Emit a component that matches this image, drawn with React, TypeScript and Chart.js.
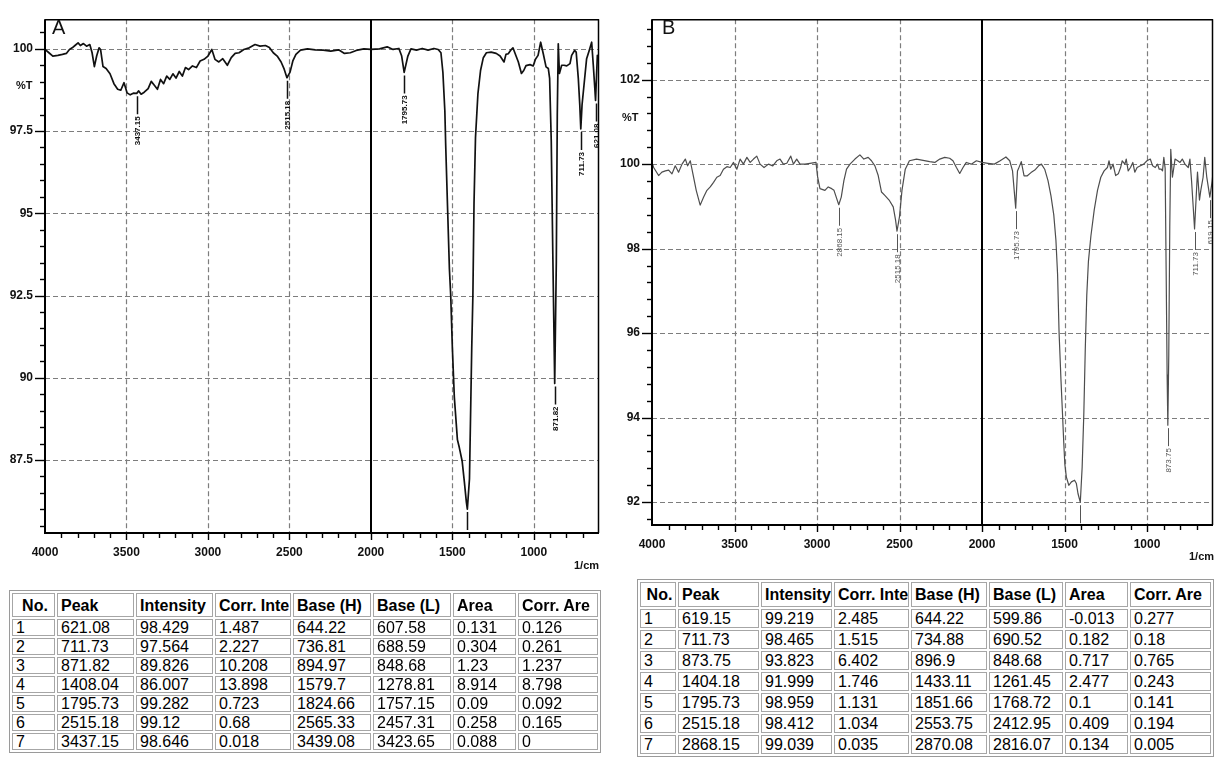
import React, { useEffect, useRef } from "react";
import { Chart, registerables } from "chart.js";

Chart.register(...registerables);

const FONT = '"Liberation Sans", Arial, Helvetica, sans-serif';

// ---------------- Spectrum A (wavenumber 1/cm, %T) ----------------
const waveA = [
  4000, 3976, 3952, 3921, 3893, 3869, 3850, 3833, 3816, 3797,
  3783, 3764, 3745, 3725, 3711, 3697, 3683, 3668, 3659, 3644,
  3625, 3601, 3577, 3554, 3535, 3515, 3496, 3477, 3458, 3437.15,
  3425, 3410, 3391, 3367, 3348, 3329, 3310, 3291, 3272, 3253,
  3234, 3215, 3196, 3176, 3157, 3138, 3119, 3095, 3071, 3048,
  3024, 3000, 2976, 2957, 2933, 2909, 2881, 2857, 2833, 2809,
  2780, 2747, 2711, 2680, 2647, 2623, 2599, 2575, 2551, 2532,
  2515.18, 2496, 2479, 2460, 2432, 2389, 2341, 2293, 2246, 2198,
  2162, 2126, 2090, 2043, 2000, 1947, 1900, 1864, 1828, 1811,
  1795.73, 1773, 1754, 1720, 1685, 1649, 1613, 1587, 1570, 1558,
  1546, 1541, 1529, 1518, 1510, 1500, 1488, 1469, 1457, 1440,
  1426, 1414, 1408.04, 1395, 1388, 1381, 1374, 1367, 1358, 1343,
  1327, 1310, 1291, 1262, 1231, 1207, 1183, 1171, 1157, 1143,
  1128, 1109, 1095, 1076, 1062, 1048, 1023, 1004, 990, 974,
  958, 942, 925, 911, 903, 893, 883, 871.82, 862, 856,
  850, 843, 829, 815, 798, 778, 768, 750, 740, 727,
  718, 711.73, 704, 692, 676, 660, 645, 635, 627, 621.08,
  615, 610, 600,
];
const transA = [
  99.98, 99.88, 99.78, 99.8, 99.83, 99.86, 99.98, 100.03, 100.1, 100.18,
  100.1, 100.16, 100.08, 100.13, 99.88, 99.46, 99.78, 100.03, 99.98, 99.46,
  99.4, 99.24, 98.94, 98.77, 98.74, 98.97, 98.66, 98.6, 98.65, 98.646,
  98.72, 98.62, 98.68, 98.79, 99.01, 98.89, 98.77, 99.07, 98.94, 99.17,
  99.07, 99.24, 99.11, 99.31, 99.17, 99.43, 99.37, 99.48, 99.43, 99.63,
  99.68, 99.78, 99.98, 99.68, 99.6, 99.7, 99.5, 99.73, 99.86, 99.88,
  99.98, 100.03, 100.13, 100.08, 100.1, 100.04, 99.88, 99.78, 99.6, 99.38,
  99.12, 99.29, 99.63, 99.83, 99.96, 100.0, 99.97, 99.96, 99.93, 99.97,
  99.86, 99.88, 99.95, 100.0, 99.98, 100.0, 100.06, 99.98, 100.01, 99.78,
  99.282, 99.78, 100.0, 99.96, 100.01, 99.96, 100.01, 99.98, 99.88, 99.28,
  98.1, 97.1, 95.1, 93.3, 92.5, 90.92, 89.42, 88.12, 87.87, 87.47,
  86.82, 86.22, 86.007, 86.92, 88.92, 90.92, 92.5, 95.32, 97.3, 98.64,
  99.34, 99.73, 99.88, 99.9, 99.86, 99.78, 99.6, 99.83, 99.85, 99.95,
  100.03, 99.78, 99.6, 99.25, 99.34, 99.49, 99.52, 99.48, 99.68, 99.8,
  100.2, 99.85, 99.45, 99.4, 99.1, 97.2, 93.6, 89.826, 93.5, 98.0,
  100.15, 99.25, 99.5, 99.5, 99.48, 99.55, 99.8, 99.95, 99.9, 99.1,
  98.3, 97.564, 98.3, 98.9, 99.7, 99.95, 100.2, 99.5, 98.9, 98.429,
  99.2, 99.8, 99.7,
];

// ---------------- Spectrum B ----------------
const waveB = [
  4000, 3990, 3960, 3940, 3919, 3899, 3879, 3859, 3839, 3818,
  3798, 3784, 3768, 3752, 3732, 3708, 3687, 3667, 3647, 3627,
  3607, 3587, 3567, 3546, 3526, 3506, 3486, 3466, 3446, 3425,
  3405, 3385, 3365, 3345, 3321, 3294, 3268, 3244, 3224, 3204,
  3183, 3159, 3143, 3123, 3103, 3073, 3042, 3006, 2996, 2982,
  2952, 2932, 2911, 2897, 2881, 2868.15, 2853, 2837, 2821, 2800,
  2770, 2740, 2716, 2690, 2670, 2649, 2629, 2609, 2589, 2563,
  2538, 2524, 2515.18, 2500, 2485, 2465, 2440, 2397, 2357, 2317,
  2286, 2256, 2226, 2196, 2176, 2155, 2135, 2115, 2095, 2065,
  2034, 2000, 1964, 1925, 1890, 1855, 1832, 1815, 1795.73, 1785,
  1778, 1762, 1745, 1727, 1703, 1680, 1657, 1640, 1620, 1600,
  1582, 1565, 1552, 1542, 1533, 1521, 1512, 1505, 1498, 1489,
  1474, 1458, 1439, 1428, 1418, 1404.18, 1393, 1383, 1374, 1365,
  1355, 1340, 1320, 1300, 1280, 1260, 1240, 1230, 1220, 1206,
  1190, 1174, 1160, 1150, 1134, 1126, 1114, 1100, 1086, 1074,
  1060, 1040, 1020, 1000, 980, 966, 950, 936, 926, 914,
  906, 898, 890, 884, 878, 873.75, 868, 862, 856, 846,
  830, 814, 800, 786, 770, 750, 740, 730, 720, 711.73,
  706, 698, 694, 682, 674, 660, 650, 638, 619.15, 605,
  600,
];
const transB = [
  100.04, 99.92, 99.73, 99.81, 99.84, 99.86, 99.77, 99.96, 99.81, 100.0,
  100.12, 99.96, 100.08, 99.77, 99.38, 99.03, 99.22, 99.38, 99.46, 99.57,
  99.69, 99.73, 99.88, 99.94, 99.92, 100.04, 99.88, 100.12, 100.0, 100.16,
  100.04, 100.12, 100.19, 100.0, 99.92, 100.0, 99.96, 100.08, 100.12, 100.0,
  100.02, 100.19, 100.0, 100.12, 100.0, 100.0, 100.02, 100.04, 99.69, 99.42,
  99.38, 99.46, 99.42, 99.38, 99.19, 99.039, 99.22, 99.61, 99.88, 100.0,
  100.12, 100.22, 100.12, 100.16, 100.08, 99.96, 99.73, 99.34, 99.26, 99.15,
  98.99, 98.68, 98.412, 98.76, 99.38, 99.88, 100.08, 100.12, 100.09, 100.06,
  100.04, 100.12, 100.16, 100.14, 100.08, 99.92, 99.78, 99.92, 100.04, 100.0,
  100.08, 100.04, 100.02, 100.0, 100.08, 100.17, 100.08, 99.84, 98.959, 99.84,
  99.9, 100.06, 99.72, 99.72, 99.8, 99.86, 99.96, 100.0, 99.88, 99.61,
  99.25, 98.8, 98.2, 97.4, 96.03, 94.86, 94.08, 93.45, 92.9, 92.6,
  92.4, 92.48, 92.52, 92.44, 92.2, 91.999, 92.83, 94.08, 95.64, 96.9,
  97.7, 98.3, 98.91, 99.38, 99.69, 99.84, 99.92, 100.08, 99.88, 100.0,
  99.73, 99.77, 99.92, 100.08, 100.0, 100.12, 99.84, 99.92, 100.04, 99.81,
  99.92, 99.96, 100.0, 100.08, 100.12, 99.96, 99.92, 100.0, 99.88, 99.88,
  99.84, 100.16, 99.9, 97.5, 95.0, 93.823, 95.5, 98.5, 100.35, 99.69,
  100.12, 100.08, 100.04, 100.12, 100.0, 99.92, 100.12, 99.61, 98.99, 98.465,
  98.91, 99.53, 99.81, 99.15, 99.38, 99.69, 100.16, 99.7, 99.219, 99.6,
  99.8,
];

// ---------------- Axis tick labels ----------------
const xTickLabels = [4000, 3500, 3000, 2500, 2000, 1500, 1000];
const yTickLabelsA = [100, 97.5, 95, 92.5, 90, 87.5];
const yTickLabelsB = [102, 100, 98, 96, 94, 92];

// ---------------- Peak tables ----------------
const tableHeader = ["No.", "Peak", "Intensity", "Corr. Inte", "Base (H)", "Base (L)", "Area", "Corr. Are"];
const rowNo = ["1", "2", "3", "4", "5", "6", "7"];

const peakA = ["621.08", "711.73", "871.82", "1408.04", "1795.73", "2515.18", "3437.15"];
const intensityA = ["98.429", "97.564", "89.826", "86.007", "99.282", "99.12", "98.646"];
const corrInteA = ["1.487", "2.227", "10.208", "13.898", "0.723", "0.68", "0.018"];
const baseHA = ["644.22", "736.81", "894.97", "1579.7", "1824.66", "2565.33", "3439.08"];
const baseLA = ["607.58", "688.59", "848.68", "1278.81", "1757.15", "2457.31", "3423.65"];
const areaA = ["0.131", "0.304", "1.23", "8.914", "0.09", "0.258", "0.088"];
const corrAreA = ["0.126", "0.261", "1.237", "8.798", "0.092", "0.165", "0"];

const peakB = ["619.15", "711.73", "873.75", "1404.18", "1795.73", "2515.18", "2868.15"];
const intensityB = ["99.219", "98.465", "93.823", "91.999", "98.959", "98.412", "99.039"];
const corrInteB = ["2.485", "1.515", "6.402", "1.746", "1.131", "1.034", "0.035"];
const baseHB = ["644.22", "734.88", "896.9", "1433.11", "1851.66", "2553.75", "2870.08"];
const baseLB = ["599.86", "690.52", "848.68", "1261.45", "1768.72", "2412.95", "2816.07"];
const areaB = ["-0.013", "0.182", "0.717", "2.477", "0.1", "0.409", "0.134"];
const corrAreB = ["0.277", "0.18", "0.765", "0.243", "0.141", "0.194", "0.005"];

// axis constants
const X_MIN = 600;
const X_MAX = 4000;
const X_MINOR = 100;
const X_MAJOR = 500;
const X_SOLID = 2000;

type SpecCfg = {
  left: number;
  width: number;
  height: number;
  plotLeft: number;
  plotRight: number;
  plotTop: number;
  plotBottom: number;
  yMin: number;
  yMax: number;
  yMinor: number;
  yLabels: number[];
  wave: number[];
  trans: number[];
  peaks: string[];
  intens: string[];
  lineColor: string;
  lineWidth: number;
  peakColor: string;
  peakFont: string;
  peakLineWidth: number;
};

function makeDecor(cfg: SpecCfg) {
  const line = (ctx: CanvasRenderingContext2D, x1: number, y1: number, x2: number, y2: number) => {
    ctx.beginPath();
    ctx.moveTo(x1, y1);
    ctx.lineTo(x2, y2);
    ctx.stroke();
  };
  return {
    id: "decor",
    beforeDatasetsDraw(chart: any) {
      const { ctx, chartArea: a } = chart;
      const xs = chart.scales.x;
      const ys = chart.scales.y;
      ctx.save();
      ctx.strokeStyle = "#7d7d7d";
      ctx.lineWidth = 1.2;
      ctx.setLineDash([5, 3]);
      for (const v of xTickLabels) {
        if (v === X_SOLID || v >= X_MAX || v <= X_MIN) continue;
        const px = Math.round(xs.getPixelForValue(v)) + 0.5;
        line(ctx, px, a.top, px, a.bottom);
      }
      for (const v of cfg.yLabels) {
        const py = Math.round(ys.getPixelForValue(v)) + 0.5;
        line(ctx, a.left, py, a.right, py);
      }
      ctx.setLineDash([]);
      ctx.strokeStyle = "#000";
      ctx.lineWidth = 2;
      const sx = Math.round(xs.getPixelForValue(X_SOLID));
      line(ctx, sx, a.top, sx, a.bottom);
      ctx.restore();
    },
    afterDatasetsDraw(chart: any) {
      const { ctx, chartArea: a } = chart;
      const xs = chart.scales.x;
      const ys = chart.scales.y;
      // peak markers
      ctx.save();
      ctx.beginPath();
      ctx.rect(a.left, a.top, a.right - a.left, a.bottom - a.top);
      ctx.clip();
      ctx.strokeStyle = cfg.peakColor;
      ctx.fillStyle = cfg.peakColor;
      ctx.lineWidth = cfg.peakLineWidth;
      ctx.font = cfg.peakFont;
      cfg.peaks.forEach((pk, i) => {
        const px = Math.round(xs.getPixelForValue(parseFloat(pk))) + 0.5;
        const py = ys.getPixelForValue(parseFloat(cfg.intens[i]));
        line(ctx, px, py + 3, px, py + 21);
        ctx.save();
        ctx.translate(px, py + 23);
        ctx.rotate(-Math.PI / 2);
        ctx.textAlign = "right";
        ctx.textBaseline = "middle";
        ctx.fillText(pk, 0, 0);
        ctx.restore();
      });
      ctx.restore();
      // frame
      ctx.save();
      ctx.strokeStyle = "#000";
      ctx.lineWidth = 1.5;
      line(ctx, a.left, a.top + 0.5, a.right, a.top + 0.5);
      line(ctx, a.right - 0.5, a.top, a.right - 0.5, a.bottom);
      ctx.lineWidth = 2;
      line(ctx, a.left, a.top, a.left, a.bottom + 1);
      line(ctx, a.left - 1, a.bottom, a.right, a.bottom);
      // ticks
      ctx.lineWidth = 1.4;
      for (let v = X_MIN + X_MINOR; v < X_MAX; v += X_MINOR) {
        const px = Math.round(xs.getPixelForValue(v)) + 0.5;
        const len = v % X_MAJOR === 0 ? 7 : 5;
        line(ctx, px, a.bottom, px, a.bottom + len);
      }
      for (let k = Math.ceil(cfg.yMin / cfg.yMinor); k * cfg.yMinor < cfg.yMax; k++) {
        const v = k * cfg.yMinor;
        const major = cfg.yLabels.some((l) => Math.abs(l - v) < 1e-6);
        const py = Math.round(ys.getPixelForValue(v)) + 0.5;
        line(ctx, a.left - (major ? 10 : 5), py, a.left, py);
      }
      ctx.restore();
    },
  };
}

function Spectrum({ cfg }: { cfg: SpecCfg }) {
  const ref = useRef<HTMLCanvasElement>(null);
  useEffect(() => {
    const tickFont = { family: FONT, size: 12, weight: "bold" as const };
    const chart = new Chart(ref.current as HTMLCanvasElement, {
      type: "line",
      data: {
        datasets: [
          {
            data: cfg.wave.map((w, i) => ({ x: w, y: cfg.trans[i] })),
            borderColor: cfg.lineColor,
            borderWidth: cfg.lineWidth,
            pointRadius: 0,
            tension: 0,
            fill: false,
            borderJoinStyle: "round",
          },
        ],
      },
      options: {
        responsive: false,
        animation: false,
        devicePixelRatio: 1,
        events: [],
        layout: { padding: { left: 0, top: cfg.plotTop, right: cfg.width - cfg.plotRight, bottom: 0 } },
        plugins: { legend: { display: false }, tooltip: { enabled: false } },
        scales: {
          x: {
            type: "linear",
            reverse: true,
            min: X_MIN,
            max: X_MAX,
            bounds: "data",
            grid: { display: false, drawTicks: false },
            border: { display: false },
            afterBuildTicks: (s: any) => {
              s.ticks = xTickLabels.map((v) => ({ value: v }));
            },
            afterFit: (s: any) => {
              s.height = cfg.height - cfg.plotBottom;
            },
            ticks: {
              autoSkip: false,
              maxRotation: 0,
              minRotation: 0,
              padding: 12,
              color: "#111",
              font: tickFont,
              callback: (v: any) => String(v),
            },
          },
          y: {
            type: "linear",
            min: cfg.yMin,
            max: cfg.yMax,
            bounds: "data",
            grid: { display: false, drawTicks: false },
            border: { display: false },
            afterBuildTicks: (s: any) => {
              s.ticks = cfg.yLabels.map((v) => ({ value: v }));
            },
            afterFit: (s: any) => {
              s.width = cfg.plotLeft;
            },
            ticks: {
              autoSkip: false,
              padding: 12,
              color: "#111",
              font: tickFont,
              callback: (v: any) => String(v),
            },
          },
        },
      } as any,
      plugins: [makeDecor(cfg)],
    });
    return () => chart.destroy();
  }, []);
  return (
    <canvas
      ref={ref}
      width={cfg.width}
      height={cfg.height}
      style={{ position: "absolute", left: cfg.left, top: 0, width: cfg.width, height: cfg.height }}
    />
  );
}

function Txt({ left, top, size, bold, children }: { left: number; top: number; size: number; bold?: boolean; children: React.ReactNode }) {
  return (
    <div
      style={{
        position: "absolute",
        left,
        top,
        fontSize: size,
        lineHeight: size + "px",
        fontWeight: bold ? "bold" : "normal",
        fontFamily: FONT,
        color: "#111",
        whiteSpace: "nowrap",
      }}
    >
      {children}
    </div>
  );
}

function PeakTable({
  left,
  top,
  widths,
  headH,
  rowH,
  cols,
}: {
  left: number;
  top: number;
  widths: number[];
  headH: number;
  rowH: number;
  cols: string[][];
}) {
  const cell: React.CSSProperties = {
    border: "1px solid #a6a6a6",
    padding: "0 0 0 3px",
    boxSizing: "border-box",
    whiteSpace: "nowrap",
    overflow: "hidden",
    lineHeight: "15px",
    verticalAlign: "middle",
    textAlign: "left",
  };
  const total = widths.reduce((s, w) => s + w, 0) + (widths.length + 1) * 2 + 2;
  return (
    <table
      style={{
        position: "absolute",
        left,
        top,
        width: total,
        borderCollapse: "separate",
        borderSpacing: 2,
        border: "1px solid #9a9a9a",
        tableLayout: "fixed",
        fontFamily: FONT,
        fontSize: 16,
        color: "#000",
        background: "#fff",
      }}
    >
      <colgroup>
        {widths.map((w, i) => (
          <col key={i} style={{ width: w }} />
        ))}
      </colgroup>
      <thead>
        <tr>
          {tableHeader.map((h, i) => (
            <th key={i} style={{ ...cell, height: headH, fontWeight: "bold", textAlign: i === 0 ? "center" : "left" }}>
              {h}
            </th>
          ))}
        </tr>
      </thead>
      <tbody>
        {rowNo.map((_, r) => (
          <tr key={r}>
            {cols.map((c, j) => (
              <td key={j} style={{ ...cell, height: rowH }}>
                {c[r]}
              </td>
            ))}
          </tr>
        ))}
      </tbody>
    </table>
  );
}

const cfgA: SpecCfg = {
  left: 0,
  width: 610,
  height: 580,
  plotLeft: 45,
  plotRight: 599,
  plotTop: 13,
  plotBottom: 533,
  yMin: 85.28,
  yMax: 100.9,
  yMinor: 0.5,
  yLabels: yTickLabelsA,
  wave: waveA,
  trans: transA,
  peaks: peakA,
  intens: intensityA,
  lineColor: "#111",
  lineWidth: 1.7,
  peakColor: "#111",
  peakFont: "bold 8px " + FONT,
  peakLineWidth: 1.5,
};

const cfgB: SpecCfg = {
  left: 610,
  width: 607,
  height: 580,
  plotLeft: 42,
  plotRight: 603,
  plotTop: 13,
  plotBottom: 525,
  yMin: 91.46,
  yMax: 103.43,
  yMinor: 0.4,
  yLabels: yTickLabelsB,
  wave: waveB,
  trans: transB,
  peaks: peakB,
  intens: intensityB,
  lineColor: "#4d4d4d",
  lineWidth: 1.2,
  peakColor: "#555",
  peakFont: "8px " + FONT,
  peakLineWidth: 1,
};

export default function App() {
  return (
    <div
      style={{
        position: "absolute",
        left: 0,
        top: 0,
        width: 1217,
        height: 759,
        overflow: "hidden",
        background: "#fff",
        fontFamily: FONT,
      }}
    >
      <Spectrum cfg={cfgA} />
      <Spectrum cfg={cfgB} />
      <Txt left={52} top={17} size={20}>A</Txt>
      <Txt left={662} top={17} size={20}>B</Txt>
      <Txt left={16} top={80} size={11} bold>%T</Txt>
      <Txt left={622} top={112} size={11} bold>%T</Txt>
      <Txt left={574} top={560} size={11} bold>1/cm</Txt>
      <Txt left={1189} top={551} size={11} bold>1/cm</Txt>
      <PeakTable
        left={9}
        top={590}
        widths={[43, 77, 77, 76, 78, 78, 63, 80]}
        headH={24}
        rowH={17}
        cols={[rowNo, peakA, intensityA, corrInteA, baseHA, baseLA, areaA, corrAreA]}
      />
      <PeakTable
        left={637}
        top={579}
        widths={[36, 81, 71, 75, 76, 74, 63, 81]}
        headH={25}
        rowH={19}
        cols={[rowNo, peakB, intensityB, corrInteB, baseHB, baseLB, areaB, corrAreB]}
      />
    </div>
  );
}
